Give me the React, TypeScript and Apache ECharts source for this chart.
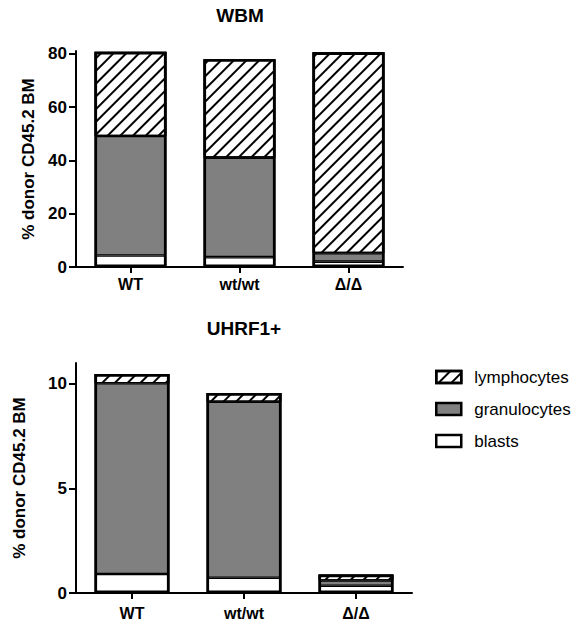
import React, { useEffect, useRef } from "react";
import * as echarts from "echarts";

const categories = ["WT", "wt/wt", "Δ/Δ"];
const seriesNames = ["lymphocytes", "granulocytes", "blasts"];

const wbmBlasts = [4.3, 3.7, 2.0];
const wbmGran = [44.8, 37.3, 3.2];
const wbmLymph = [31.6, 36.9, 75.3];

const uhrfBlasts = [0.91, 0.73, 0.35];
const uhrfGran = [9.12, 8.42, 0.25];
const uhrfLymph = [0.44, 0.41, 0.28];

const wbmTicks = [0, 20, 40, 60, 80];
const uhrfTicks = [0, 5, 10];

const FONT = "Liberation Sans, Arial, sans-serif";

const hatch = {
  symbol: "rect",
  symbolSize: 1,
  dashArrayX: [1, 0],
  dashArrayY: [1.8, 6.2],
  rotation: -Math.PI / 4,
  color: "#000",
};

const sum3 = (a: number[], b: number[], c: number[]) => a.map((v, i) => v + b[i] + c[i]);

export default function App() {
  const ref = useRef<HTMLDivElement>(null);
  useEffect(() => {
    const chart = echarts.init(ref.current!, undefined, { renderer: "svg" });

    const yAxisBase = (max: number, ticks: number[], nameGap: number, gridIndex: number) => ({
      type: "value",
      gridIndex,
      min: 0,
      max,
      name: "% donor CD45.2 BM",
      nameLocation: "middle",
      nameGap,
      nameTextStyle: { fontFamily: FONT, fontWeight: "bold", fontSize: 17, color: "#000" },
      axisLine: { show: true, lineStyle: { color: "#000", width: 2 } },
      axisTick: { show: true, length: 7, customValues: ticks, lineStyle: { color: "#000", width: 2 } },
      axisLabel: { customValues: ticks, margin: 9, fontFamily: FONT, fontWeight: "bold", fontSize: 17, color: "#000" },
      splitLine: { show: false },
    });

    const xAxisBase = (gridIndex: number, margin: number) => ({
      type: "category",
      gridIndex,
      data: categories,
      axisLine: { show: true, lineStyle: { color: "#000", width: 2 } },
      axisTick: { show: true, alignWithLabel: true, length: 6, lineStyle: { color: "#000", width: 2 } },
      axisLabel: { margin, fontFamily: FONT, fontWeight: "bold", fontSize: 16, color: "#000" },
    });

    const mk = (name: string, data: number[], idx: number, stack: string, barWidth: number) => {
      const itemStyle: any = {
        color: name === "granulocytes" ? "#808080" : "#ffffff",
        borderColor: "#000",
        borderWidth: 1.3,
      };
      if (name === "lymphocytes") itemStyle.decal = hatch;
      return {
        type: "bar",
        name,
        data,
        stack,
        xAxisIndex: idx,
        yAxisIndex: idx,
        barWidth,
        barGap: "-100%",
        itemStyle,
        emphasis: { disabled: true },
      };
    };

    const outline = (data: number[], idx: number, barWidth: number) => ({
      type: "bar",
      name: "outline",
      data,
      xAxisIndex: idx,
      yAxisIndex: idx,
      barWidth,
      barGap: "-100%",
      z: 5,
      silent: true,
      itemStyle: { color: "rgba(0,0,0,0)", borderColor: "#000", borderWidth: 2.6 },
      emphasis: { disabled: true },
    });

    chart.setOption({
      animation: false,
      backgroundColor: "#fff",
      grid: [
        { left: 76, top: 51, width: 327, height: 216 },
        { left: 76, top: 363, width: 336, height: 230 },
      ],
      xAxis: [xAxisBase(0, 9), xAxisBase(1, 12)],
      yAxis: [yAxisBase(81, wbmTicks, 35, 0), yAxisBase(11, uhrfTicks, 48, 1)],
      legend: {
        orient: "vertical",
        left: 435,
        top: 368,
        padding: 0,
        itemWidth: 25,
        itemHeight: 12,
        itemGap: 14,
        icon: "rect",
        data: seriesNames,
        selectedMode: false,
        itemStyle: { borderWidth: 2.5, borderColor: "#000" },
        textStyle: { fontFamily: FONT, fontSize: 17, color: "#000", lineHeight: 18, padding: [0, 0, 0, 8] },
      },
      graphic: [
        {
          type: "text",
          style: { text: "WBM", x: 240, y: 15, align: "center", verticalAlign: "middle", font: "bold 19px " + FONT, fill: "#000" },
        },
        {
          type: "text",
          style: { text: "UHRF1+", x: 244, y: 328, align: "center", verticalAlign: "middle", font: "bold 19px " + FONT, fill: "#000" },
        },
      ],
      series: [
        mk("blasts", wbmBlasts, 0, "a", 72),
        mk("granulocytes", wbmGran, 0, "a", 72),
        mk("lymphocytes", wbmLymph, 0, "a", 72),
        outline(sum3(wbmBlasts, wbmGran, wbmLymph), 0, 72),
        mk("blasts", uhrfBlasts, 1, "b", 75),
        mk("granulocytes", uhrfGran, 1, "b", 75),
        mk("lymphocytes", uhrfLymph, 1, "b", 75),
        outline(sum3(uhrfBlasts, uhrfGran, uhrfLymph), 1, 75),
      ],
    });
    return () => chart.dispose();
  }, []);
  return <div ref={ref} style={{ position: "fixed", left: 0, top: 0, width: 581, height: 625 }} />;
}
